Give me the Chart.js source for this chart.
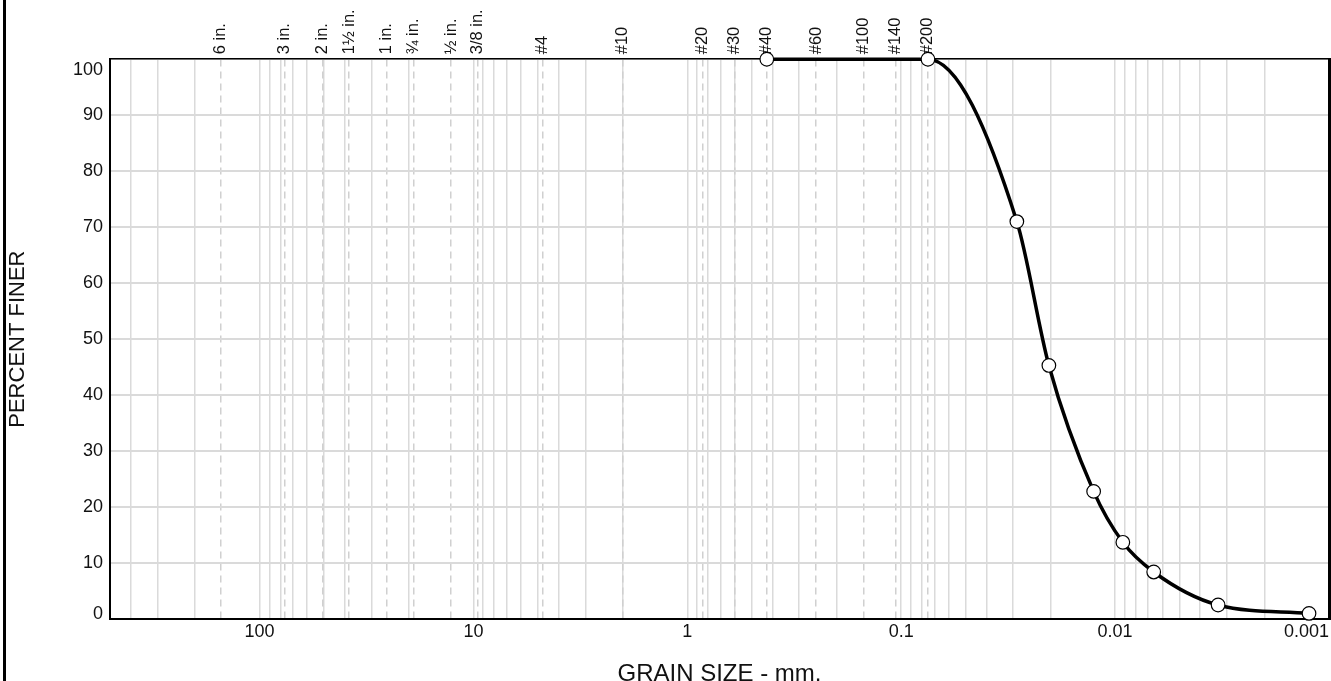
<!DOCTYPE html>
<html>
<head>
<meta charset="utf-8">
<script src="https://cdn.jsdelivr.net/npm/chart.js@4.4.1/dist/chart.umd.min.js"></script>
<style>
  html, body { margin: 0; padding: 0; background: #fff; }
  #wrap { position: relative; width: 1331px; height: 681px; }
  #edge { position: absolute; left: 3px; top: 0; width: 3px; height: 681px; background: #000; }
</style>
</head>
<body>
<div id="wrap"><canvas id="chart"></canvas><div id="edge"></div></div>
<script>
// grain size (mm) vs percent finer
const grainSize = [0.425, 0.075, 0.0288, 0.0204, 0.0126, 0.0092, 0.0066, 0.0033, 0.00124];
const percentFiner = [100, 100, 71, 45.3, 22.8, 13.7, 8.4, 2.5, 1.0];

// sieve openings (mm) and names along the top
const sieveSize = [152.4, 76.2, 50.8, 38.1, 25.4, 19.05, 12.7, 9.525, 4.75, 2.0, 0.85, 0.6, 0.425, 0.25, 0.15, 0.106, 0.075];
const sieveName = ['6 in.', '3 in.', '2 in.', '1½ in.', '1 in.', '¾ in.', '½ in.', '3/8 in.', '#4', '#10', '#20', '#30', '#40', '#60', '#100', '#140', '#200'];

// labelled grain size ticks
const xLabels = [100, 10, 1, 0.1, 0.01, 0.001];
const xMin = 0.001, xMax = 500;

const FONT = "'Liberation Sans', Arial, sans-serif";
const GRID = '#dadada';

// 1..9 x 10^n grid lines across the range
function logGrid() {
    let out = [];
    for (let e = -3; e <= 2; e++) {
        for (let m = 1; m <= 9; m++) {
            let v = parseFloat((m * Math.pow(10, e)).toPrecision(3));
            if (v >= xMin && v <= xMax) out.push({value: v});
        }
    }
    out.push({value: xMax});
    return out;
}

const points = grainSize.map((s, i) => ({x: s, y: percentFiner[i]}));

new Chart(document.getElementById('chart'), {
    type: 'line',
    data: {
        datasets: [{
            data: points,
            borderColor: '#000',
            borderWidth: 3.5,
            cubicInterpolationMode: 'monotone',
            pointRadius: 6.8,
            pointBackgroundColor: '#fff',
            pointBorderColor: '#000',
            pointBorderWidth: 1.2,
            clip: false
        }]
    },
    options: {
        responsive: true,
        maintainAspectRatio: false,
        animation: false,
        layout: {autoPadding: false, padding: {left: 5, top: 4.3, right: 2, bottom: 0}},
        plugins: {legend: {display: false}, tooltip: {enabled: false}},
        scales: {
            x: {
                type: 'logarithmic',
                position: 'bottom',
                min: xMin, max: xMax,
                reverse: true,
                afterBuildTicks: s => { s.ticks = logGrid(); },
                grid: {color: GRID, lineWidth: 1.5, drawTicks: false},
                border: {color: '#000', width: 2},
                ticks: {
                    autoSkip: false, maxRotation: 0, padding: 2, align: 'inner',
                    color: '#111', font: {family: FONT, size: 18},
                    callback: v => xLabels.indexOf(v) >= 0 ? String(v) : ''
                },
                title: {
                    display: true, text: 'GRAIN SIZE - mm.', color: '#111',
                    font: {family: FONT, size: 24, lineHeight: 1},
                    padding: {top: 17.4, bottom: -5}
                }
            },
            xTop: {
                type: 'logarithmic',
                position: 'top',
                min: xMin, max: xMax,
                reverse: true,
                afterBuildTicks: s => { s.ticks = sieveSize.map(v => ({value: v})); },
                grid: {color: '#d0d0d0', lineWidth: 1.5, drawTicks: false},
                border: {color: '#000', width: 1.5, dash: [7, 5]},
                ticks: {
                    autoSkip: false, minRotation: 90, maxRotation: 90, padding: 5, labelOffset: 19.8,
                    color: '#111', font: {family: FONT, size: 16.5},
                    callback: (v, i) => sieveName[sieveSize.indexOf(v)]
                }
            },
            y: {
                min: 0, max: 100,
                grid: {color: GRID, lineWidth: 2, drawTicks: false},
                border: {color: '#000', width: 2},
                ticks: {
                    stepSize: 10, padding: 7, color: '#111',
                    font: ctx => ({family: FONT, size: 18, lineHeight: ctx.tick && ctx.tick.value === 0 ? 0.55 : 1.2}),
                    callback: v => v === 100 ? ['', '100'] : (v === 0 ? ['0', ''] : String(v))
                },
                title: {
                    display: true, text: 'PERCENT FINER', color: '#111',
                    font: {family: FONT, size: 22},
                    padding: {top: 0, bottom: 34.6}
                }
            },
            yRight: {
                position: 'right',
                min: 0, max: 100,
                grid: {drawOnChartArea: false, drawTicks: false},
                border: {color: '#000', width: 3},
                ticks: {display: false}
            }
        }
    }
});
</script>
</body>
</html>
